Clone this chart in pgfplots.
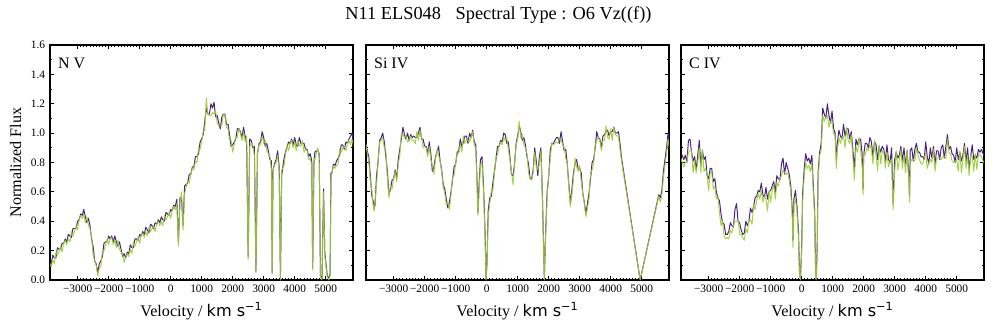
\documentclass[border=0pt]{standalone}
\usepackage{fontspec}
\setmainfont{Liberation Serif}
\newfontfamily\dejavu{DejaVu Sans}
\usepackage{pgfplots}
\usepackage{pgfplotstable}
\pgfplotsset{compat=1.18}

\definecolor{specPurple}{HTML}{4A2080}
\definecolor{specGreen}{HTML}{9ACD32}

% N V : velocity, purple spectrum, green spectrum
\pgfplotstableread{
v p g
-3900 0.12 0.11
-3850 0.11 0.09
-3800 0.17 0.14
-3750 0.15 0.11
-3700 0.15 0.19
-3650 0.22 0.17
-3600 0.21 0.19
-3550 0.21 0.23
-3500 0.25 0.19
-3450 0.25 0.25
-3400 0.28 0.27
-3350 0.26 0.24
-3300 0.31 0.28
-3250 0.30 0.26
-3200 0.29 0.33
-3150 0.35 0.30
-3100 0.35 0.33
-3050 0.35 0.37
-3000 0.40 0.34
-2950 0.41 0.41
-2900 0.45 0.44
-2850 0.44 0.42
-2800 0.48 0.45
-2750 0.43 0.39
-2700 0.39 0.43
-2650 0.42 0.37
-2600 0.37 0.35
-2550 0.28 0.30
-2500 0.23 0.17
-2450 0.13 0.13
-2400 0.11 0.10
-2350 0.05 0.03
-2300 0.11 0.08
-2250 0.13 0.09
-2200 0.16 0.20
-2150 0.25 0.20
-2100 0.26 0.24
-2050 0.26 0.28
-2000 0.30 0.24
-1950 0.28 0.28
-1900 0.30 0.29
-1850 0.26 0.24
-1800 0.30 0.27
-1750 0.26 0.22
-1700 0.23 0.27
-1650 0.26 0.21
-1600 0.21 0.19
-1550 0.16 0.18
-1500 0.18 0.12
-1450 0.15 0.15
-1400 0.19 0.18
-1350 0.18 0.16
-1300 0.24 0.21
-1250 0.22 0.18
-1200 0.22 0.26
-1150 0.28 0.23
-1100 0.28 0.26
-1050 0.27 0.29
-1000 0.31 0.25
-950 0.30 0.30
-900 0.33 0.32
-850 0.31 0.29
-800 0.36 0.33
-750 0.34 0.30
-700 0.32 0.36
-650 0.38 0.33
-600 0.37 0.35
-550 0.35 0.37
-500 0.39 0.33
-450 0.38 0.38
-400 0.41 0.40
-350 0.39 0.37
-300 0.43 0.40
-250 0.41 0.37
-200 0.40 0.44
-150 0.46 0.41
-100 0.45 0.43
-50 0.44 0.46
0 0.48 0.42
50 0.47 0.47
100 0.51 0.50
150 0.50 0.48
200 0.55 0.52
250 0.26 0.23
300 0.56 0.52
350 0.56 0.60
400 0.37 0.34
450 0.64 0.59
500 0.65 0.63
550 0.66 0.68
600 0.72 0.66
650 0.72 0.72
700 0.77 0.76
750 0.77 0.75
800 0.84 0.81
850 0.84 0.80
900 0.86 0.90
950 0.94 0.89
1000 0.96 0.94
1050 0.99 1.01
1100 1.08 1.02
1150 1.17 1.24
1200 1.13 1.13
1250 1.13 1.12
1300 1.20 1.12
1350 1.17 1.14
1400 1.21 1.13
1450 1.11 1.15
1500 1.12 1.07
1550 1.07 1.05
1600 1.03 1.05
1650 1.11 1.05
1700 1.13 1.13
1750 1.13 1.12
1800 1.06 1.04
1850 1.06 1.03
1900 0.99 0.95
1950 0.91 0.95
2000 0.92 0.87
2050 0.94 0.92
2100 0.96 0.98
2150 1.03 0.97
2200 1.03 1.03
2250 1.01 1.00
2300 0.97 0.95
2350 1.04 1.01
2400 0.98 0.94
2450 0.94 0.98
2500 0.16 0.14
2550 0.96 0.91
2600 0.95 0.93
2650 0.90 0.92
2700 0.91 0.85
2750 0.06 0.05
2800 0.86 0.86
2850 0.93 0.92
2900 0.94 0.92
2950 1.01 0.98
3000 0.97 0.93
3050 0.91 0.95
3100 0.93 0.88
3150 0.88 0.86
3200 0.82 0.84
3250 0.81 0.75
3275 0.05 0.04
3300 0.75 0.75
3350 0.79 0.78
3400 0.82 0.80
3450 0.88 0.85
3500 0.77 0.73
3540 0.01 0.00
3580 0.71 0.75
3650 0.82 0.77
3700 0.87 0.85
3750 0.90 0.92
3800 0.94 0.88
3850 0.93 0.93
3900 0.96 0.95
3950 0.92 0.90
4000 0.97 0.94
4050 0.92 0.88
4100 0.91 0.95
4150 0.97 0.92
4200 0.93 0.91
4250 0.93 0.95
4300 0.93 0.87
4350 0.89 0.89
4400 0.89 0.88
4450 0.84 0.82
4500 0.86 0.83
4550 0.81 0.77
4580 0.08 0.07
4620 0.79 0.83
4650 0.87 0.82
4700 0.88 0.86
4750 0.88 0.90
4790 0.86 0.84
4830 0.03 0.02
4880 0.01 0.00
4930 0.62 0.60
4970 0.19 0.17
5000 0.13 0.11
5050 0.03 0.02
5100 0.01 0.00
5140 0.04 0.03
5170 0.73 0.67
5200 0.73 0.73
5250 0.79 0.78
5300 0.78 0.76
5350 0.81 0.78
5400 0.83 0.79
5450 0.85 0.89
5500 0.92 0.87
5550 0.92 0.90
5600 0.89 0.91
5650 0.94 0.88
5700 0.93 0.93
5750 0.96 0.95
5800 0.98 0.92
5850 1.00 0.96
5900 0.94 0.90
}\nvdata

% Si IV
\pgfplotstableread{
v p g
-3900 0.94 0.93
-3850 0.88 0.86
-3800 0.84 0.81
-3750 0.71 0.67
-3700 0.57 0.61
-3650 0.53 0.48
-3620 0.49 0.47
-3600 0.51 0.53
-3550 0.71 0.65
-3500 0.81 0.81
-3450 0.95 0.94
-3400 0.97 0.95
-3350 1.00 0.97
-3300 0.94 0.90
-3250 0.84 0.88
-3200 0.74 0.69
-3150 0.58 0.56
-3100 0.62 0.64
-3050 0.68 0.62
-3000 0.69 0.69
-2950 0.75 0.74
-2900 0.69 0.67
-2850 0.82 0.79
-2800 0.89 0.85
-2750 0.96 1.00
-2700 1.04 0.99
-2650 0.99 0.97
-2600 0.96 0.98
-2550 1.00 0.94
-2500 0.95 0.95
-2450 0.99 0.98
-2400 0.97 0.95
-2350 0.98 0.95
-2300 0.97 0.93
-2250 0.97 1.01
-2200 1.00 0.95
-2150 1.04 1.02
-2100 0.96 0.98
-2050 0.96 0.90
-2000 0.91 0.91
-1950 0.91 0.90
-1900 0.86 0.84
-1850 0.94 0.91
-1800 0.86 0.82
-1750 0.74 0.78
-1700 0.77 0.72
-1650 0.84 0.82
-1600 0.87 0.89
-1550 0.91 0.85
-1500 0.81 0.81
-1450 0.75 0.74
-1400 0.65 0.63
-1350 0.62 0.59
-1300 0.55 0.51
-1250 0.49 0.53
-1200 0.53 0.48
-1150 0.60 0.58
-1100 0.68 0.70
-1050 0.77 0.71
-1000 0.79 0.79
-950 0.87 0.86
-900 0.88 0.86
-850 0.96 0.93
-800 0.91 0.87
-750 0.94 0.98
-700 0.98 0.93
-650 0.98 0.96
-600 0.93 0.95
-550 1.00 0.94
-500 0.97 0.97
-450 1.02 1.01
-400 0.94 0.92
-350 0.92 0.89
-300 0.62 0.58
-280 0.46 0.44
-250 0.62 0.58
-200 0.82 0.78
-150 0.84 0.80
-100 0.64 0.60
-50 0.32 0.28
-20 0.01 0.00
10 0.11 0.09
50 0.47 0.43
100 0.56 0.52
150 0.57 0.61
200 0.66 0.61
250 0.74 0.72
300 0.82 0.84
350 0.91 0.85
400 0.91 0.91
450 0.95 0.94
500 0.94 0.92
550 1.00 0.97
600 0.99 0.95
650 0.93 0.97
700 0.94 0.89
750 0.84 0.82
800 0.72 0.74
850 0.71 0.65
900 0.79 0.79
950 0.93 0.92
1000 0.98 0.96
1050 1.05 1.08
1100 1.01 0.97
1150 0.95 0.99
1200 0.97 0.92
1250 0.92 0.90
1300 0.84 0.86
1350 0.79 0.73
1400 0.69 0.69
1450 0.69 0.68
1500 0.75 0.73
1550 0.90 0.87
1600 0.81 0.77
1650 0.71 0.75
1700 0.84 0.79
1750 0.90 0.88
1800 0.56 0.54
1860 0.01 0.00
1900 0.31 0.29
1950 0.60 0.56
2000 0.70 0.72
2050 0.88 0.82
2100 0.93 0.93
2150 0.93 0.92
2200 0.95 0.93
2250 0.97 0.94
2300 0.97 0.93
2350 0.93 0.97
2400 1.01 0.96
2450 0.94 0.92
2500 0.88 0.90
2550 0.89 0.83
2600 0.79 0.79
2650 0.65 0.64
2700 0.52 0.50
2750 0.62 0.59
2800 0.73 0.69
2850 0.79 0.83
2900 0.82 0.77
2950 0.76 0.74
3000 0.76 0.78
3050 0.73 0.67
3100 0.59 0.59
3150 0.53 0.52
3200 0.45 0.43
3250 0.52 0.49
3300 0.59 0.55
3350 0.69 0.73
3400 0.80 0.75
3450 0.82 0.80
3500 0.90 0.92
3550 1.01 0.95
3600 0.97 0.97
3650 0.96 0.95
3700 0.90 0.88
3750 0.98 0.95
3800 0.99 0.95
3850 1.01 1.05
3900 1.02 0.97
3950 0.98 0.96
4000 1.01 1.03
4050 1.01 0.95
4100 1.04 1.04
4150 1.00 0.99
4200 1.00 0.98
4250 1.01 0.98
4300 0.93 0.89
4350 0.83 0.81
4950 0.00 0.00
5550 0.58 0.57
5600 0.56 0.53
5650 0.61 0.58
5700 0.74 0.70
5750 0.82 0.78
5800 0.90 0.86
5850 1.00 0.96
5900 0.92 0.88
}\sivdata

% C IV
\pgfplotstableread{
v p g
-3900 0.85 0.83
-3850 0.85 0.80
-3800 0.82 0.77
-3750 0.85 0.80
-3700 0.80 0.81
-3650 0.95 0.87
-3600 0.96 0.88
-3550 0.87 0.88
-3500 0.81 0.73
-3450 0.84 0.81
-3400 0.75 0.73
-3350 0.85 0.80
-3300 0.95 0.90
-3250 0.78 0.73
-3200 0.88 0.89
-3150 0.82 0.74
-3100 0.84 0.76
-3050 0.71 0.72
-3000 0.69 0.61
-2950 0.76 0.73
-2900 0.76 0.74
-2850 0.67 0.62
-2800 0.69 0.64
-2750 0.60 0.55
-2700 0.56 0.57
-2650 0.54 0.46
-2600 0.45 0.37
-2550 0.39 0.40
-2500 0.38 0.30
-2450 0.31 0.28
-2400 0.31 0.29
-2350 0.33 0.28
-2300 0.39 0.34
-2250 0.37 0.32
-2200 0.36 0.37
-2150 0.48 0.40
-2100 0.52 0.40
-2050 0.40 0.41
-2000 0.39 0.31
-1950 0.34 0.31
-1900 0.31 0.29
-1850 0.32 0.27
-1800 0.40 0.35
-1750 0.37 0.32
-1700 0.40 0.41
-1650 0.49 0.41
-1600 0.46 0.38
-1550 0.50 0.51
-1500 0.56 0.48
-1450 0.57 0.54
-1400 0.61 0.59
-1350 0.60 0.55
-1300 0.66 0.61
-1250 0.58 0.53
-1200 0.56 0.57
-1150 0.63 0.55
-1100 0.55 0.47
-1050 0.60 0.61
-1000 0.61 0.53
-950 0.64 0.61
-900 0.67 0.65
-850 0.60 0.55
-800 0.71 0.66
-750 0.69 0.64
-700 0.68 0.69
-650 0.79 0.71
-600 0.83 0.75
-550 0.72 0.73
-500 0.80 0.72
-450 0.76 0.73
-400 0.72 0.68
-350 0.64 0.60
-300 0.47 0.42
-280 0.27 0.22
-250 0.55 0.50
-200 0.61 0.56
-150 0.50 0.46
-100 0.32 0.28
-70 0.06 0.04
-40 0.01 0.00
0 0.21 0.19
30 0.58 0.53
80 0.75 0.70
130 0.86 0.80
180 0.81 0.76
230 0.83 0.78
280 0.79 0.74
330 0.85 0.80
380 0.62 0.58
420 0.47 0.43
450 0.06 0.04
470 0.01 0.00
500 0.21 0.19
530 0.73 0.68
580 0.87 0.85
630 0.93 0.88
680 1.17 1.12
730 1.13 1.08
780 1.10 1.11
830 1.20 1.12
880 1.12 1.04
930 1.07 1.08
980 1.15 1.07
1030 1.03 1.00
1080 1.00 0.98
1120 0.81 0.76
1150 0.93 0.88
1200 1.02 0.97
1250 0.98 0.93
1300 0.96 0.97
1350 1.06 0.98
1400 0.98 0.90
1450 1.03 1.04
1500 1.03 0.95
1550 0.96 0.93
1600 1.01 0.99
1650 0.89 0.84
1700 0.75 0.68
1750 0.96 0.91
1800 0.92 0.87
1850 0.96 0.97
1900 0.96 0.88
1950 0.86 0.78
1980 0.62 0.58
2000 0.85 0.86
2050 0.93 0.85
2100 0.93 0.90
2150 0.90 0.88
2200 0.97 0.92
2250 0.94 0.89
2300 0.84 0.79
2350 0.94 0.95
2400 0.92 0.84
2450 0.82 0.74
2500 0.91 0.92
2550 0.87 0.79
2600 0.91 0.88
2650 0.89 0.87
2700 0.81 0.76
2750 0.92 0.87
2800 0.82 0.77
2850 0.80 0.81
2900 0.90 0.82
2950 0.52 0.48
3000 0.82 0.74
3050 0.87 0.88
3100 0.83 0.75
3150 0.85 0.82
3200 0.91 0.89
3250 0.81 0.76
3300 0.90 0.85
3350 0.78 0.73
3400 0.88 0.89
3450 0.73 0.68
3480 0.57 0.53
3500 0.88 0.80
3550 0.90 0.82
3600 0.81 0.82
3650 0.89 0.81
3700 0.93 0.90
3750 0.87 0.85
3800 0.87 0.82
3850 0.84 0.79
3900 0.84 0.79
3950 0.82 0.83
4000 0.94 0.86
4050 0.84 0.76
4100 0.79 0.80
4150 0.90 0.82
4200 0.83 0.80
4250 0.91 0.89
4300 0.79 0.74
4350 0.88 0.83
4400 0.88 0.83
4450 0.82 0.83
4500 0.90 0.82
4550 0.92 0.84
4600 0.83 0.84
4650 0.91 0.83
4700 0.99 0.96
4750 0.89 0.87
4800 0.91 0.86
4850 0.86 0.81
4900 0.85 0.80
4950 0.80 0.81
5000 0.90 0.82
5050 0.82 0.74
5100 0.87 0.88
5150 0.81 0.73
5200 0.85 0.82
5250 0.93 0.91
5300 0.81 0.76
5350 0.90 0.85
5400 0.76 0.71
5450 0.84 0.85
5500 0.92 0.84
5550 0.82 0.74
5600 0.85 0.86
5650 0.83 0.75
5700 0.89 0.86
5750 0.87 0.85
5800 0.89 0.84
5850 0.86 0.81
5900 0.84 0.79
}\civdata

\tikzset{
  tag/.style={anchor=north west, inner sep=0pt, font=\fontsize{11.5}{13}\selectfont},
}
\pgfplotsset{
  panel/.style={
    scale only axis,
    width=218.16pt, height=169.2pt,
    anchor=south west,
    xmin=-3890, xmax=5880, ymin=0, ymax=1.6,
    xtick={-3000,-2000,-1000,0,1000,2000,3000,4000,5000},
    xticklabels={−3000,−2000,−1000,0,1000,2000,3000,4000,5000},
    minor x tick num=9,
    ytick={0,0.2,0.4,0.6,0.8,1.0,1.2,1.4,1.6},
    minor y tick num=1,
    tick align=inside, xtick pos=both, ytick pos=both,
    major tick length=3pt, minor tick length=1.6pt,
    axis line style={line width=0.75pt, black},
    tick style={line width=0.6pt, black},
    tick label style={font=\fontsize{8.2}{9}\selectfont},
    label style={font=\fontsize{11.6}{13}\selectfont},
    xlabel={Velocity / {\dejavu km s\textsuperscript{−1}}},
  },
  purp/.style={specPurple, line width=0.7pt, line join=round, no markers},
  gren/.style={specGreen, opacity=0.9, line width=0.7pt, line join=round, no markers},
}

\begin{document}
\begin{tikzpicture}
  \path[use as bounding box] (0,0) rectangle (717.84pt,239.04pt);

  \node[font=\fontsize{13.2}{15}\selectfont] at (358.9pt,228.2pt)
    {N11 ELS048\hspace{0.8em}Spectral Type : O6 Vz((f))};

  \begin{axis}[panel, at={(36pt,37.44pt)},
      yticklabels={0.0,0.2,0.4,0.6,0.8,1.0,1.2,1.4,1.6},
      ylabel={Normalized Flux}]
    \addplot[purp] table[x=v, y=p] {\nvdata};
    \addplot[gren] table[x=v, y=g] {\nvdata};
    \node[tag] at (axis description cs:0.026,0.945) {N V};
  \end{axis}

  \begin{axis}[panel, at={(263.52pt,37.44pt)}, yticklabels={}]
    \addplot[purp] table[x=v, y=p] {\sivdata};
    \addplot[gren] table[x=v, y=g] {\sivdata};
    \node[tag] at (axis description cs:0.026,0.945) {Si IV};
  \end{axis}

  \begin{axis}[panel, at={(490.32pt,37.44pt)}, yticklabels={}]
    \addplot[purp] table[x=v, y=p] {\civdata};
    \addplot[gren] table[x=v, y=g] {\civdata};
    \node[tag] at (axis description cs:0.026,0.945) {C IV};
  \end{axis}
\end{tikzpicture}
\end{document}
